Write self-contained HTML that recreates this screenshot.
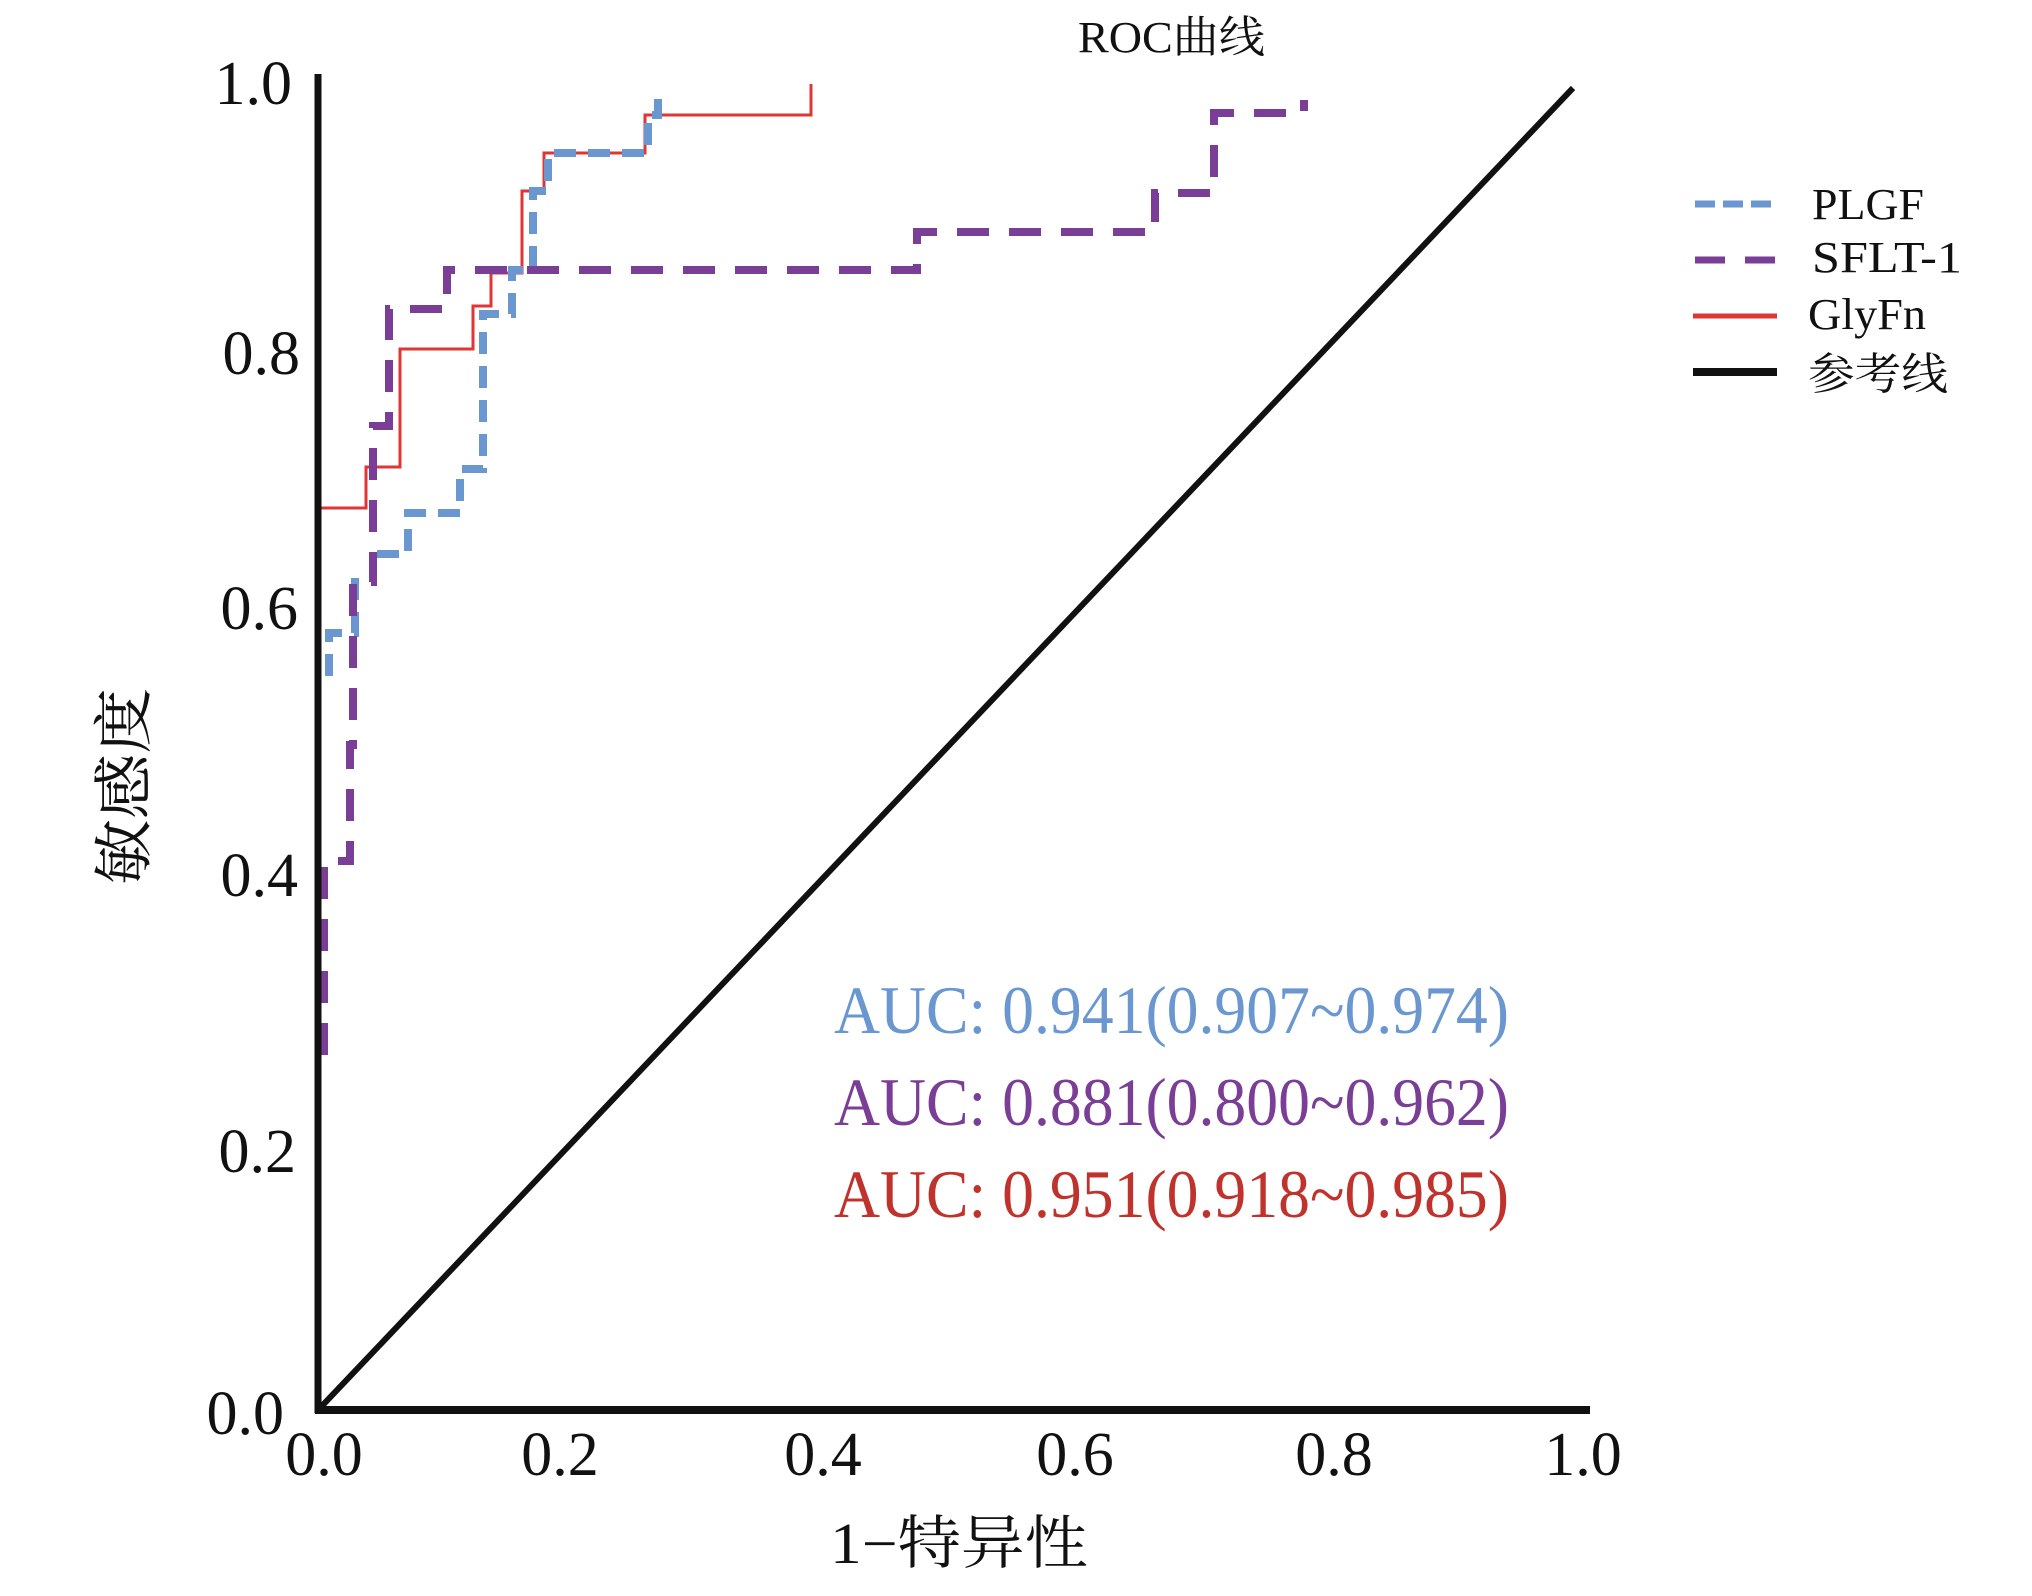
<!DOCTYPE html>
<html><head><meta charset="utf-8"><style>
html,body{margin:0;padding:0;background:#fff;}
svg{display:block;}
text{font-family:"Liberation Serif","Noto Serif CJK SC",serif;}
</style></head><body>
<svg width="2032" height="1596" viewBox="0 0 2032 1596" xmlns="http://www.w3.org/2000/svg">
<rect width="2032" height="1596" fill="#fff"/>
<!-- title -->
<text x="1078" y="52" font-size="44" textLength="187" lengthAdjust="spacingAndGlyphs" fill="#111">ROC曲线</text>
<!-- diagonal -->
<line x1="320" y1="1408" x2="1573" y2="88" stroke="#111" stroke-width="6"/>
<!-- curves -->
<polyline fill="none" stroke="#e03535" stroke-width="3" points="318,508 366,508 366,467 400,467 400,349 473,349 473,306 491,306 491,273 522,273 522,191 544,191 544,153 645,153 645,115 811,115 811,84"/>
<polyline fill="none" stroke="#6a97d0" stroke-width="8" stroke-dasharray="22,12" points="329,676 329,633 355,633 355,582 373,582 373,554 408,554 408,513 460,513 460,469 483,469 483,314 512,314 512,270 533,270 533,191 548,191 548,153 648,153 648,115 658,115 658,89"/>
<polyline fill="none" stroke="#7a3e96" stroke-width="8" stroke-dasharray="32,20" points="324,1055 324,861 350,861 350,745 353,745 353,582 373,582 373,426 389,426 389,309 447,309 447,270 917,270 917,232 1155,232 1155,193 1214,193 1214,113 1304,113 1304,100"/>
<!-- axes -->
<line x1="318" y1="74" x2="318" y2="1413" stroke="#111" stroke-width="7"/>
<line x1="315" y1="1410" x2="1590" y2="1410" stroke="#111" stroke-width="8"/>
<!-- y ticks -->
<g font-size="62" fill="#111" text-anchor="end">
<text x="292" y="104">1.0</text>
<text x="300" y="374">0.8</text>
<text x="298" y="629">0.6</text>
<text x="298" y="896">0.4</text>
<text x="296" y="1172">0.2</text>
<text x="284" y="1434">0.0</text>
</g>
<g font-size="62" fill="#111" text-anchor="middle">
<text x="324" y="1475">0.0</text>
<text x="560" y="1475">0.2</text>
<text x="823" y="1475">0.4</text>
<text x="1075" y="1475">0.6</text>
<text x="1334" y="1475">0.8</text>
<text x="1583" y="1475">1.0</text>
</g>
<text x="830" y="1563" font-size="58" textLength="258" lengthAdjust="spacingAndGlyphs" fill="#111">1−特异性</text>
<text transform="translate(145,885) rotate(-90)" font-size="60" textLength="197" lengthAdjust="spacingAndGlyphs" fill="#111">敏感度</text>
<!-- AUC -->
<text x="834" y="1033" font-size="68" textLength="675" lengthAdjust="spacingAndGlyphs" fill="#6a97d0">AUC: 0.941(0.907~0.974)</text>
<text x="834" y="1125" font-size="68" textLength="675" lengthAdjust="spacingAndGlyphs" fill="#7a3e96">AUC: 0.881(0.800~0.962)</text>
<text x="834" y="1217" font-size="68" textLength="675" lengthAdjust="spacingAndGlyphs" fill="#c0332c">AUC: 0.951(0.918~0.985)</text>
<!-- legend -->
<line x1="1695" y1="204" x2="1777" y2="204" stroke="#6a97d0" stroke-width="7" stroke-dasharray="20,8"/>
<line x1="1695" y1="260" x2="1777" y2="260" stroke="#7a3e96" stroke-width="7" stroke-dasharray="30,20"/>
<line x1="1693" y1="316" x2="1777" y2="316" stroke="#e03535" stroke-width="5"/>
<line x1="1693" y1="372" x2="1777" y2="372" stroke="#111" stroke-width="8"/>
<g font-size="44" fill="#111">
<text x="1812" y="219" textLength="112" lengthAdjust="spacingAndGlyphs">PLGF</text>
<text x="1812" y="272" textLength="150" lengthAdjust="spacingAndGlyphs">SFLT-1</text>
<text x="1808" y="329" textLength="118" lengthAdjust="spacingAndGlyphs">GlyFn</text>
<text x="1808" y="389" textLength="140" lengthAdjust="spacingAndGlyphs">参考线</text>
</g>
</svg>
</body></html>
